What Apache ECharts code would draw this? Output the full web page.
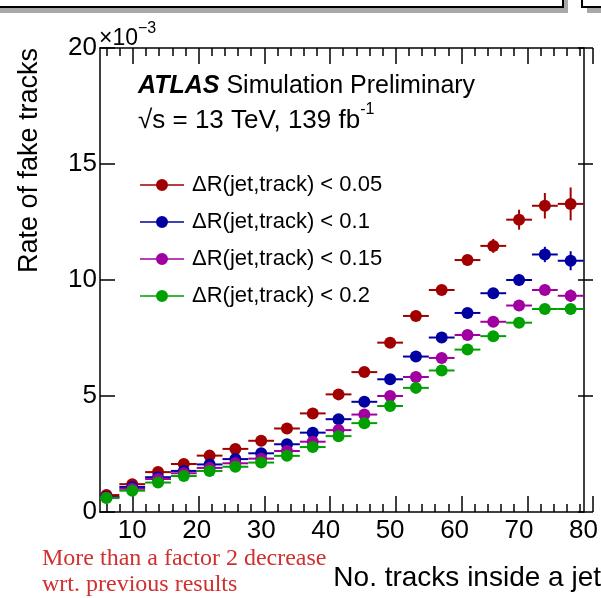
<!DOCTYPE html>
<html>
<head>
<meta charset="utf-8">
<script src="https://cdn.jsdelivr.net/npm/echarts@6/dist/echarts.min.js"></script>
<style>
  html, body { margin: 0; padding: 0; background: #fff; }
  #chart { width: 601px; height: 598px; }
</style>
</head>
<body>
<div id="chart"></div>
<script>
// bin centres (No. tracks inside a jet), bins are 4 wide
var binCentres = [6, 10, 14, 18, 22, 26, 30, 34, 38, 42, 46, 50, 54, 58, 62, 66, 70, 74, 78];
var binHalfWidth = 2;

// fake-track rate, units of 1e-3
var rate005 = [0.73, 1.2, 1.72, 2.07, 2.43, 2.72, 3.07, 3.6, 4.25, 5.07, 6.03, 7.3, 8.45, 9.57, 10.86, 11.47, 12.6, 13.2, 13.28];
var rate01 = [0.65, 1.08, 1.5, 1.77, 2.05, 2.28, 2.53, 2.92, 3.42, 4.0, 4.75, 5.72, 6.7, 7.52, 8.58, 9.43, 10.0, 11.1, 10.83];
var rate015 = [0.63, 1.0, 1.42, 1.67, 1.9, 2.1, 2.3, 2.63, 3.03, 3.53, 4.2, 5.0, 5.82, 6.64, 7.63, 8.2, 8.9, 9.57, 9.32];
var rate02 = [0.6, 0.92, 1.27, 1.55, 1.77, 1.95, 2.13, 2.42, 2.8, 3.27, 3.83, 4.57, 5.35, 6.1, 7.0, 7.58, 8.16, 8.75, 8.75];

// vertical uncertainties, same units
var err005 = [0.03, 0.03, 0.03, 0.04, 0.05, 0.05, 0.06, 0.07, 0.08, 0.1, 0.12, 0.14, 0.17, 0.17, 0.22, 0.3, 0.43, 0.55, 0.71];
var err01 = [0.03, 0.03, 0.03, 0.03, 0.04, 0.04, 0.05, 0.05, 0.06, 0.07, 0.08, 0.1, 0.11, 0.13, 0.16, 0.2, 0.24, 0.33, 0.41];
var err015 = [0.03, 0.03, 0.03, 0.03, 0.03, 0.04, 0.04, 0.05, 0.05, 0.06, 0.07, 0.08, 0.1, 0.11, 0.13, 0.15, 0.18, 0.2, 0.27];
var err02 = [0.03, 0.03, 0.03, 0.03, 0.03, 0.03, 0.04, 0.04, 0.05, 0.05, 0.06, 0.07, 0.08, 0.1, 0.11, 0.13, 0.15, 0.18, 0.2];

var seriesNames = ['ΔR(jet,track) < 0.05', 'ΔR(jet,track) < 0.1', 'ΔR(jet,track) < 0.15', 'ΔR(jet,track) < 0.2'];

// axes
var xMin = 5, xMax = 80;
var xMajorTicks = [10, 20, 30, 40, 50, 60, 70, 80];
var xMinorTicks = [6, 8, 12, 14, 16, 18, 22, 24, 26, 28, 32, 34, 36, 38, 42, 44, 46, 48, 52, 54, 56, 58, 62, 64, 66, 68, 72, 74, 76, 78];
var yMin = 0, yMax = 20, yStep = 5;

var colors = ['#a00000', '#0000a0', '#a000a0', '#00a000'];
var FONT = 'Liberation Sans, Arial, Helvetica, sans-serif';

var chart = echarts.init(document.getElementById('chart'));

// one point: horizontal bin bar, vertical error bar, filled circle
function renderPoint(params, api) {
  var x = api.value(0), y = api.value(1), e = api.value(2);
  var c = api.visual('color');
  var l = api.coord([Math.max(x - binHalfWidth, xMin), y]);
  var r = api.coord([Math.min(x + binHalfWidth, xMax), y]);
  var t = api.coord([x, y + e]);
  var b = api.coord([x, y - e]);
  var p = api.coord([x, y]);
  return {
    type: 'group',
    children: [
      { type: 'line', shape: { x1: l[0], y1: l[1], x2: r[0], y2: r[1] }, style: { stroke: c, lineWidth: 2 } },
      { type: 'line', shape: { x1: t[0], y1: t[1], x2: b[0], y2: b[1] }, style: { stroke: c, lineWidth: 2 } },
      { type: 'circle', shape: { cx: p[0], cy: p[1], r: 6 }, style: { fill: c } }
    ]
  };
}

var rates = [rate005, rate01, rate015, rate02];
var errs = [err005, err01, err015, err02];

var series = rates.map(function (vals, k) {
  return {
    name: seriesNames[k],
    type: 'custom',
    xAxisIndex: 0,
    yAxisIndex: 0,
    renderItem: renderPoint,
    itemStyle: { color: colors[k] },
    encode: { x: 0, y: 1 },
    data: binCentres.map(function (x, i) { return [x, vals[i], errs[k][i]]; }),
    z: 10 + k
  };
});

// legend marker: line with a dot
var legendIcon = 'path://M0,5.25H44V6.75H0Z M28,6A6,6,0,1,1,16,6A6,6,0,1,1,28,6Z';

var legends = seriesNames.map(function (n, i) {
  return {
    data: [n],
    left: 140,
    top: 174 + 37 * i,
    padding: 0,
    orient: 'vertical',
    itemWidth: 44,
    itemHeight: 12,
    icon: legendIcon,
    selectedMode: false,
    textStyle: { fontSize: 22, lineHeight: 22, color: '#000', fontFamily: FONT, padding: [0, 0, 0, 3] }
  };
});

var tickStyle = { color: '#000', width: 1.5 };
var frameLine = { show: true, onZero: false, lineStyle: { color: '#000', width: 1.5 } };
var noLine = { show: false, onZero: false };
var noTick = { show: false };
var noLabel = { show: false };
var gridRect = { left: 100, top: 48, right: 8, bottom: 86 };
var plotW = 601 - 100 - 8, plotH = 598 - 48 - 86;

// several grids on the same rect: frame + labels, then tick-only axes.
// tick-only axes sit on the opposite side with a negative offset so their
// outward ticks point into the plot.
function xAx(grid, pos, line, tick, label, offset) {
  return { type: 'value', gridIndex: grid, position: pos, offset: offset || 0, min: xMin, max: xMax, axisLine: line, axisTick: tick, axisLabel: label, splitLine: { show: false } };
}
function yAx(grid, pos, line, tick, label, offset) {
  return { type: 'value', gridIndex: grid, position: pos, offset: offset || 0, min: yMin, max: yMax, interval: yStep, axisLine: line, axisTick: tick, axisLabel: label, splitLine: { show: false } };
}
var majorXTick = { customValues: xMajorTicks, inside: false, length: 16, lineStyle: tickStyle };
var minorXTick = { customValues: xMinorTicks, inside: false, length: 8, lineStyle: tickStyle };
var majorYTick = { inside: false, length: 15, lineStyle: tickStyle };

var option = {
  backgroundColor: '#fff',
  animation: false,
  grid: [gridRect, gridRect, gridRect],
  legend: legends,
  xAxis: [
    xAx(0, 'bottom', frameLine, noTick, { customValues: xMajorTicks, fontSize: 26, color: '#000', fontFamily: FONT, margin: 6 }),
    xAx(0, 'top', frameLine, noTick, noLabel),
    // ticks on the bottom edge, pointing up
    xAx(1, 'top', noLine, minorXTick, noLabel, -plotH),
    xAx(2, 'top', noLine, majorXTick, noLabel, -plotH),
    // ticks on the top edge, pointing down
    xAx(1, 'bottom', noLine, minorXTick, noLabel, -plotH),
    xAx(2, 'bottom', noLine, majorXTick, noLabel, -plotH)
  ],
  yAxis: [
    yAx(0, 'left', frameLine, noTick, { fontSize: 26, color: '#000', fontFamily: FONT, margin: 3 }),
    yAx(0, 'right', frameLine, noTick, noLabel),
    // ticks on the left edge, pointing right
    yAx(1, 'right', noLine, majorYTick, noLabel, -plotW),
    // ticks on the right edge, pointing left
    yAx(2, 'left', noLine, majorYTick, noLabel, -plotW)
  ],
  graphic: [
    // slide frames at the very top
    { type: 'rect', shape: { x: 0, y: -14, width: 568, height: 27 }, style: { fill: '#a8a8a8' }, z: 1 },
    { type: 'rect', shape: { x: -5, y: -20, width: 568, height: 27 }, style: { fill: '#fff', stroke: '#000', lineWidth: 2 }, z: 2 },
    { type: 'rect', shape: { x: 587, y: -14, width: 40, height: 27 }, style: { fill: '#a8a8a8' }, z: 1 },
    { type: 'rect', shape: { x: 582, y: -20, width: 40, height: 27 }, style: { fill: '#fff', stroke: '#000', lineWidth: 2 }, z: 2 },
    // axis multiplier
    {
      type: 'text', x: 99, y: 39,
      style: {
        text: '{m|×10}{s|−3}', textAlign: 'left', textVerticalAlign: 'middle',
        fontFamily: FONT, lineHeight: 36,
        rich: { m: { fontSize: 23, fontFamily: FONT, fill: '#000' }, s: { fontSize: 16, fontFamily: FONT, fill: '#000', verticalAlign: 'top' } }
      }
    },
    // ATLAS label
    {
      type: 'text', x: 138, y: 86,
      style: {
        text: '{b|ATLAS} Simulation Preliminary', textAlign: 'left', textVerticalAlign: 'middle',
        fontSize: 25, fontFamily: FONT, fill: '#000',
        rich: { b: { fontSize: 25, fontFamily: FONT, fontWeight: 'bold', fontStyle: 'italic', fill: '#000' } }
      }
    },
    {
      type: 'text', x: 138, y: 121,
      style: {
        text: '{m|√s = 13 TeV, 139 fb}{s|-1}', textAlign: 'left', textVerticalAlign: 'middle',
        fontFamily: FONT, lineHeight: 38,
        rich: { m: { fontSize: 26, fontFamily: FONT, fill: '#000' }, s: { fontSize: 16, fontFamily: FONT, fill: '#000', verticalAlign: 'top' } }
      }
    },
    // axis titles
    {
      type: 'text', x: 30, y: 48, rotation: Math.PI / 2,
      style: { text: 'Rate of fake tracks', textAlign: 'right', textVerticalAlign: 'middle', fontSize: 27, fontFamily: FONT, fill: '#000' }
    },
    {
      type: 'text', x: 601, y: 578,
      style: { text: 'No. tracks inside a jet', textAlign: 'right', textVerticalAlign: 'middle', fontSize: 28, fontFamily: FONT, fill: '#000' }
    },
    // annotation
    {
      type: 'text', x: 42, y: 572,
      style: {
        text: 'More than a factor 2 decrease\nwrt. previous results', textAlign: 'left', textVerticalAlign: 'middle',
        fontSize: 24, lineHeight: 26, fontFamily: 'Liberation Serif, Times New Roman, serif', fill: '#d03030'
      }
    }
  ],
  series: series
};

chart.setOption(option);
</script>
</body>
</html>
